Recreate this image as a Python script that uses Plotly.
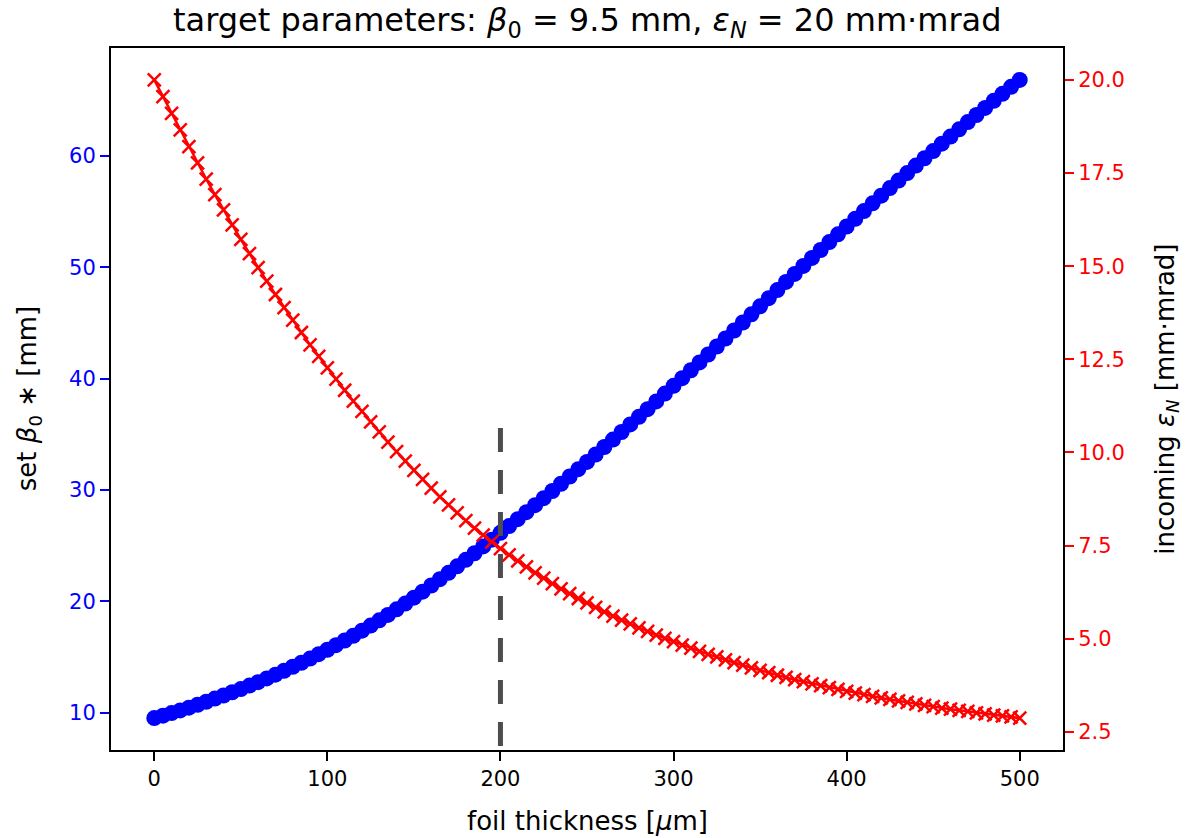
import plotly.graph_objects as go

# foil thickness in micrometres
thickness_um = list(range(0, 501, 5))

# incoming normalised emittance [mm·mrad] for each foil thickness
eps_in = [
    20.00, 19.55, 19.10, 18.66, 18.21, 17.77, 17.34, 16.92, 16.51, 16.11,
    15.72, 15.34, 14.96, 14.60, 14.24, 13.89, 13.55, 13.22, 12.89, 12.58,
    12.27, 11.97, 11.67, 11.38, 11.10, 10.82, 10.55, 10.28, 10.02, 9.77,
    9.52, 9.28, 9.04, 8.81, 8.59, 8.38, 8.17, 7.97, 7.78, 7.60,
    7.42, 7.25, 7.09, 6.93, 6.77, 6.63, 6.48, 6.34, 6.21, 6.08,
    5.96, 5.84, 5.72, 5.61, 5.50, 5.40, 5.29, 5.20, 5.10, 5.01,
    4.92, 4.83, 4.75, 4.66, 4.58, 4.51, 4.43, 4.36, 4.29, 4.22,
    4.15, 4.09, 4.02, 3.96, 3.90, 3.85, 3.79, 3.74, 3.69, 3.64,
    3.59, 3.54, 3.50, 3.45, 3.41, 3.37, 3.33, 3.29, 3.25, 3.21,
    3.18, 3.14, 3.11, 3.08, 3.05, 3.01, 2.98, 2.95, 2.93, 2.90,
    2.87,
]

# beta function to set at the foil [mm]
beta_set = [
    9.50, 9.72, 9.95, 10.19, 10.44, 10.70, 10.97, 11.25, 11.53, 11.82,
    12.11, 12.42, 12.73, 13.06, 13.40, 13.75, 14.11, 14.47, 14.85, 15.24,
    15.64, 16.05, 16.47, 16.90, 17.35, 17.81, 18.28, 18.77, 19.27, 19.79,
    20.32, 20.86, 21.41, 21.98, 22.55, 23.13, 23.72, 24.31, 24.92, 25.53,
    26.14, 26.75, 27.37, 28.00, 28.63, 29.26, 29.90, 30.55, 31.20, 31.86,
    32.51, 33.18, 33.85, 34.52, 35.20, 35.88, 36.56, 37.25, 37.95, 38.65,
    39.35, 40.04, 40.75, 41.45, 42.16, 42.88, 43.60, 44.32, 45.04, 45.77,
    46.49, 47.22, 47.95, 48.68, 49.40, 50.12, 50.84, 51.55, 52.26, 52.96,
    53.66, 54.36, 55.05, 55.74, 56.43, 57.11, 57.79, 58.46, 59.13, 59.79,
    60.44, 61.10, 61.74, 62.39, 63.04, 63.68, 64.31, 64.95, 65.58, 66.21,
    66.83,
]

chosen_thickness = 200
x_ticks = [0, 100, 200, 300, 400, 500]
left_ticks = [10, 20, 30, 40, 50, 60]
right_ticks = [2.5, 5.0, 7.5, 10.0, 12.5, 15.0, 17.5, 20.0]

FONT = "DejaVu Sans"
TICK_SIZE = 21
LABEL_SIZE = 26
TITLE_SIZE = 32


def padded(lo, hi, frac=0.05):
    span = hi - lo
    return [lo - frac * span, hi + frac * span]


fig = go.Figure()

fig.add_trace(go.Scatter(
    x=thickness_um, y=beta_set, mode="lines+markers",
    line=dict(color="#0000ff", width=3.5),
    marker=dict(symbol="circle", size=16, color="#0000ff"),
    yaxis="y", showlegend=False,
))

fig.add_trace(go.Scatter(
    x=thickness_um, y=eps_in, mode="lines+markers",
    line=dict(color="#ff0000", width=2.5),
    marker=dict(symbol="x-thin", size=13, color="#ff0000",
                line=dict(color="#ff0000", width=2.5)),
    yaxis="y2", showlegend=False,
))

# marker line at the chosen foil thickness, drawn from its top end downwards
fig.add_shape(type="line", xref="x", yref="paper",
              x0=chosen_thickness, x1=chosen_thickness, y0=0.4587, y1=0.0,
              line=dict(color="#4d4d4d", width=5, dash="24px,18px"))

axis_common = dict(
    showline=True, linecolor="black", linewidth=2,
    showgrid=False, zeroline=False,
    ticks="outside", ticklen=9, tickwidth=2,
)

fig.update_layout(
    width=1192, height=838,
    margin=dict(l=111, r=129, t=48, b=88),
    paper_bgcolor="white", plot_bgcolor="white",
    font=dict(family=FONT, size=TICK_SIZE, color="black"),
    xaxis=dict(
        range=padded(min(thickness_um), max(thickness_um)),
        tickvals=x_ticks, mirror=True, tickcolor="black",
        tickfont=dict(family=FONT, size=TICK_SIZE, color="black"),
        **axis_common,
    ),
    yaxis=dict(
        range=padded(min(beta_set), max(beta_set)),
        tickvals=left_ticks, tickcolor="#0000ff",
        tickfont=dict(family=FONT, size=TICK_SIZE, color="#0000ff"),
        **axis_common,
    ),
    yaxis2=dict(
        range=padded(min(eps_in), max(eps_in)),
        tickvals=right_ticks, tickformat=".1f", tickcolor="#ff0000",
        tickfont=dict(family=FONT, size=TICK_SIZE, color="#ff0000"),
        overlaying="y", side="right",
        **axis_common,
    ),
)

fig.add_annotation(
    text="target parameters: <i>β</i><sub>0</sub> = 9.5 mm, <i>ε</i><sub><i>N</i></sub> = 20 mm·mrad",
    x=0.5, y=1.037, xref="paper", yref="paper", xanchor="center", yanchor="middle",
    showarrow=False, font=dict(family=FONT, size=TITLE_SIZE, color="black"),
)
fig.add_annotation(
    text="foil thickness [<i>μ</i>m]",
    x=0.5, y=-0.101, xref="paper", yref="paper", xanchor="center", yanchor="middle",
    showarrow=False, font=dict(family=FONT, size=LABEL_SIZE, color="black"),
)
fig.add_annotation(
    text="set <i>β</i><sub>0</sub> ∗ [mm]",
    x=-0.087, y=0.5, xref="paper", yref="paper", xanchor="center", yanchor="middle",
    textangle=-90, showarrow=False, font=dict(family=FONT, size=LABEL_SIZE, color="black"),
)
fig.add_annotation(
    text="incoming <i>ε</i><sub><i>N</i></sub> [mm·mrad]",
    x=1.108, y=0.5, xref="paper", yref="paper", xanchor="center", yanchor="middle",
    textangle=-90, showarrow=False, font=dict(family=FONT, size=LABEL_SIZE, color="black"),
)

fig.write_html("out.html")
